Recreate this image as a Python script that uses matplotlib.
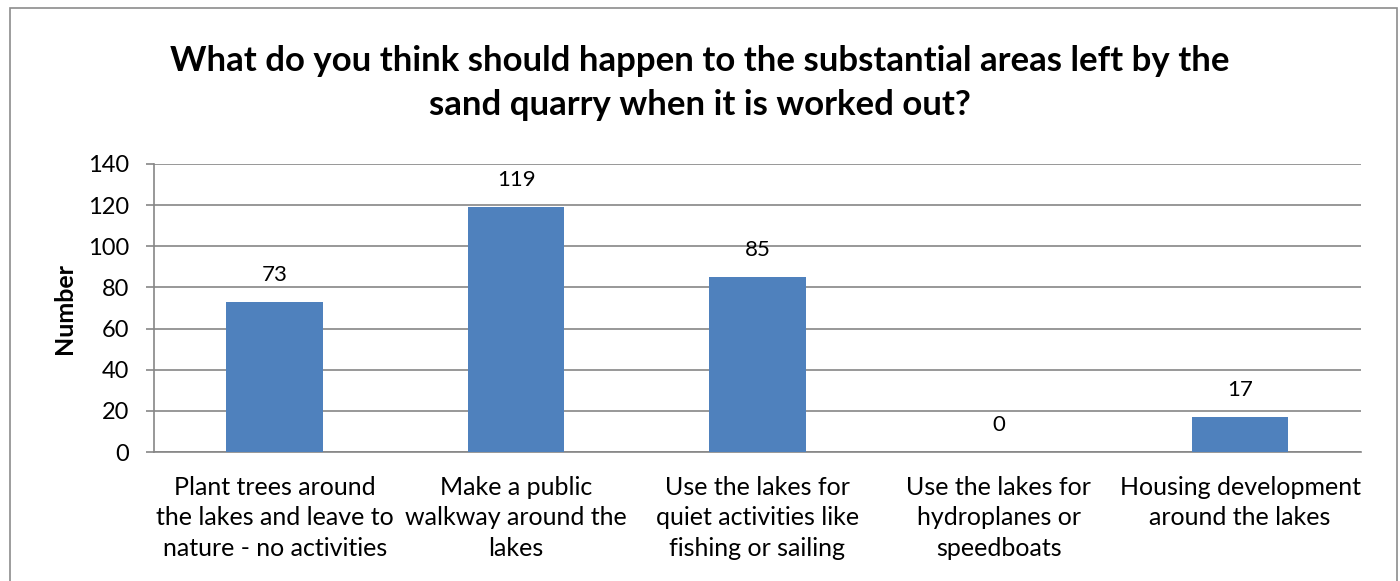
import matplotlib
matplotlib.use("Agg")
import matplotlib.pyplot as plt
from matplotlib.patches import Rectangle
import numpy as np

plt.rcParams['font.family'] = ['Lato', 'DejaVu Sans']

categories = [
    "Plant trees around\nthe lakes and leave to\nnature - no activities",
    "Make a public\nwalkway around the\nlakes",
    "Use the lakes for\nquiet activities like\nfishing or sailing",
    "Use the lakes for\nhydroplanes or\nspeedboats",
    "Housing development\naround the lakes",
]
counts = [73, 119, 85, 0, 17]
y_ticks = [0, 20, 40, 60, 80, 100, 120, 140]

title = ("What do you think should happen to the substantial areas left by the\n"
         "sand quarry when it is worked out?")

bar_color = "#4F81BD"
grid_color = "#868686"

fig = plt.figure(figsize=(14, 5.81), dpi=100)
ax = fig.add_axes([0.11, 0.222, 0.862, 0.496])

# chart border
fig.patches.append(Rectangle((0.007, -0.02), 0.991, 1.006, transform=fig.transFigure,
                             fill=False, edgecolor="#8c8c8c", linewidth=1.2))

x = np.arange(len(categories))
bars = ax.bar(x, counts, width=0.4, color=bar_color, zorder=3)

for bar, v in zip(bars, counts):
    ax.text(bar.get_x() + bar.get_width() / 2, v + 13, f"{v}",
            ha="center", va="center", fontsize=16)

ax.set_xlim(-0.5, len(categories) - 0.5)
ax.set_ylim(0, 140)
ax.set_yticks(y_ticks)
ax.set_yticklabels([str(t) for t in y_ticks], fontsize=17)
ax.set_xticks(x)
ax.set_xticklabels(categories, fontsize=18, linespacing=1.4)
ax.tick_params(axis="x", length=0, pad=17)
ax.tick_params(axis="y", length=6, color=grid_color, width=1.2, pad=12)

ax.yaxis.grid(True, color=grid_color, linewidth=1.2, zorder=0)
ax.set_axisbelow(True)
for side in ["top", "right"]:
    ax.spines[side].set_visible(False)
for side in ["left", "bottom"]:
    ax.spines[side].set_color(grid_color)
    ax.spines[side].set_linewidth(1.2)

fig.text(65 / 1400, 1 - 308 / 581, "Number", rotation=90, ha="center", va="center",
         fontsize=18, fontweight="bold")

fig.text(0.5, 1 - 83 / 581, title, ha="center", va="center", fontsize=25,
         fontweight="bold", linespacing=1.45)

fig.savefig("out.png", dpi=100)
